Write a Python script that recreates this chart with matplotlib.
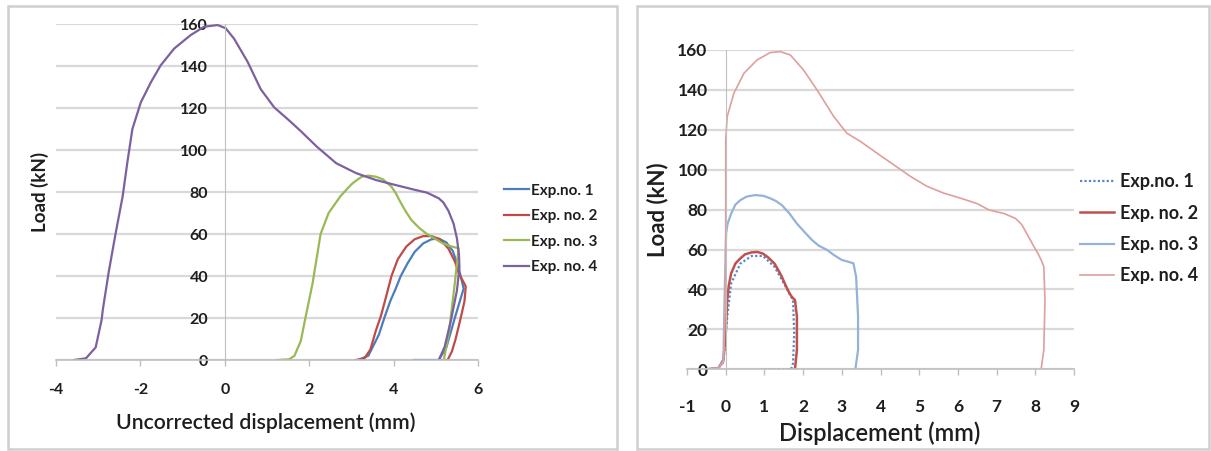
import matplotlib
matplotlib.use("Agg")
import matplotlib.pyplot as plt
from matplotlib.patches import Rectangle

plt.rcParams['font.family'] = ['Lato', 'DejaVu Sans']
plt.rcParams['axes.unicode_minus'] = False

# ---- uncorrected load-displacement curves (left chart)
x1L = [3.15, 3.4, 3.55, 3.65, 3.78, 3.92, 4.05, 4.17, 4.33, 4.5, 4.7, 4.9, 5.07, 5.25, 5.4, 5.54, 5.66, 5.45, 5.25, 5.07, 4.48]
y1L = [0, 2, 8, 12, 20, 28, 34, 40, 46, 51.5, 55.5, 57.5, 57.8, 56, 52, 44, 34, 20, 6, 0, 0]

x2L = [3.1, 3.3, 3.45, 3.58, 3.7, 3.82, 3.95, 4.1, 4.3, 4.5, 4.7, 4.9, 5.1, 5.3, 5.45, 5.55, 5.66, 5.71, 5.68, 5.59,
       5.47, 5.38, 5.28, 5.15]
y2L = [0, 0.5, 5, 14, 21, 30, 40, 48, 54, 57.5, 59, 59, 57.5, 53, 47, 41, 37, 35, 28, 20, 10, 4, 0, 0]

x3L = [1.24, 1.52, 1.65, 1.8, 1.9, 2.08, 2.27, 2.46, 2.74, 2.9, 3.02, 3.15, 3.25, 3.4, 3.58, 3.75, 3.95, 4.05, 4.14,
       4.28, 4.42, 4.6, 4.79, 5.0, 5.17, 5.35, 5.54, 5.45, 5.31, 5.19]
y3L = [0, 0.3, 2, 9, 19, 36.5, 60, 70, 78, 81.5, 84, 86, 87.3, 87.8, 87.3, 86, 82.5, 79.5, 76,
       71, 66.7, 63, 60, 57.5, 55.5, 54.2, 53.2, 36.5, 12.7, 0]

x4L = [-3.57, -3.29, -3.06, -2.92, -2.89, -2.75, -2.59, -2.42, -2.31, -2.19, -1.99, -1.75, -1.52, -1.2, -0.81,
       -0.49, -0.17, 0.02, 0.22, 0.54, 0.85, 1.17, 1.49, 1.8, 2.18, 2.64, 3.11, 3.58, 4.05, 4.51, 4.79, 5.07,
       5.18, 5.3, 5.42, 5.5, 5.55, 5.56, 5.5, 5.36, 5.21, 5.07]
y4L = [0, 0.8, 6, 19, 24, 42, 60, 78, 94, 110, 122.7, 132.3, 140.3, 148.3, 154.7,
       158.7, 159.5, 158, 153, 142, 129, 120.3, 114.7, 109, 101.6, 93.7, 89, 85.7, 83.3, 81, 79.7, 77,
       75, 71, 65, 58, 50, 44, 33, 19, 6.3, 0]

# ---- corrected load-displacement curves (right chart)
x1R = [-0.5, -0.2, -0.06, -0.03, 0.04, 0.14, 0.38, 0.67, 0.96, 1.26, 1.55, 1.74, 1.77, 1.74, 1.69, 0.92]
y1R = [0, 0.5, 4, 9.7, 26.4, 43, 53, 56.8, 56.8, 51.4, 41.4, 34.7, 18, 3, 0, 0]

x2R = [-0.5, -0.19, -0.06, 0, 0.04, 0.08, 0.14, 0.25, 0.38, 0.5, 0.67, 0.82, 0.96, 1.1, 1.26, 1.35, 1.45, 1.55,
       1.65, 1.72, 1.79, 1.84, 1.84, 1.79]
y2R = [0, 0.5, 4.7, 18, 34.7, 42, 48, 53, 55.6, 57.6, 58.6, 58.8, 58, 56, 53, 50, 46.4, 42,
       38, 36, 34.7, 26.4, 9.7, 0]

x3R = [-0.5, -0.2, -0.06, -0.03, 0.01, 0.05, 0.14, 0.25, 0.38, 0.55, 0.77, 0.98, 1.16, 1.3, 1.45, 1.65, 1.84, 2.05,
       2.23, 2.4, 2.62, 2.8, 3.0, 3.15, 3.3, 3.37, 3.42, 3.42, 3.35]
y3R = [0, 0.5, 4, 34.7, 68, 73, 78, 82.5, 84.8, 86.6, 87.3, 86.9, 85.6, 84.3, 82.3, 78, 73, 68.5,
       64.8, 62, 59.8, 57.2, 54.8, 54, 53.1, 46.4, 26.4, 9.7, 0]

x4R = [-0.5, -0.2, -0.06, -0.03, 0.0, 0.0, 0.04, 0.21, 0.47, 0.81, 1.15, 1.41, 1.67, 2.01, 2.36, 2.79, 3.13, 3.48,
       3.91, 4.34, 4.77, 5.2, 5.63, 6.06, 6.5, 6.81, 7.2, 7.49, 7.65, 7.78, 7.95, 8.07, 8.17, 8.22, 8.25, 8.22, 8.15]
y4R = [0, 0.5, 3, 18, 51, 115, 126.7, 138.3, 148.3, 155, 158.7, 159.2, 157.5, 150, 140, 126.7, 118.3, 114.2,
       108.3, 102.5, 96.7, 91.7, 88.3, 85.8, 83, 79.8, 78, 75.6, 72.5, 68, 62, 58, 54, 51.4, 34.7, 9.7, 0]

labelsL = ['Exp.no. 1', 'Exp. no. 2', 'Exp. no. 3', 'Exp. no. 4']
labelsR = ['Exp.no. 1', 'Exp. no. 2', 'Exp. no. 3', 'Exp. no. 4']

txt = '#1E1E1E'
grid_c = '#D9D9D9'
axis_c = '#BFBFBF'

fig = plt.figure(figsize=(12.11, 4.51), dpi=100)

# chart borders
fig.patches.append(Rectangle((8 / 1211, 2 / 451), 609 / 1211, 443 / 451, transform=fig.transFigure,
                             fill=False, edgecolor='#CFCFCF', lw=1.8))
fig.patches.append(Rectangle((637 / 1211, 2 / 451), 572 / 1211, 443 / 451, transform=fig.transFigure,
                             fill=False, edgecolor='#CFCFCF', lw=1.8))


def style_axes(ax, xlim, xticks, fs, ypad, xpad):
    ax.set_xlim(*xlim)
    ax.set_ylim(0, 160)
    ax.set_xticks(xticks)
    ax.set_yticks(range(0, 161, 20))
    ax.grid(axis='y', color=grid_c, lw=1.6)
    ax.set_axisbelow(True)
    for s in ['top', 'right']:
        ax.spines[s].set_visible(False)
    ax.spines['left'].set_position(('data', 0))
    ax.spines['left'].set_color(axis_c)
    ax.spines['left'].set_linewidth(0.8)
    ax.spines['bottom'].set_color(axis_c)
    ax.spines['bottom'].set_linewidth(1.2)
    ax.tick_params(axis='y', length=0, pad=ypad, labelsize=fs, labelcolor=txt)
    ax.tick_params(axis='x', length=4.5, width=1, color=axis_c, direction='out', pad=xpad,
                   labelsize=fs, labelcolor=txt)
    for t in ax.get_xticklabels() + ax.get_yticklabels():
        t.set_fontweight('bold')


# left chart
axL = fig.add_axes([56 / 1211, (451 - 360) / 451, 422 / 1211, 336 / 451])
style_axes(axL, (-4, 6), range(-4, 7, 2), 11.5, 12, 12)
axL.plot(x1L, y1L, color='#4A7EBB', lw=1.6, label=labelsL[0])
axL.plot(x2L, y2L, color='#BE4B48', lw=1.6, label=labelsL[1])
axL.plot(x3L, y3L, color='#98B954', lw=1.6, label=labelsL[2])
axL.plot(x4L, y4L, color='#7D60A0', lw=1.6, label=labelsL[3])
axL.set_xlabel('Uncorrected displacement (mm)', fontsize=15.3, fontweight='semibold', color=txt, va='center')
axL.xaxis.set_label_coords(0.498, -0.1875)
axL.set_ylabel('Load (kN)', fontsize=13.5, fontweight='bold', color=txt, va='center')
axL.yaxis.set_label_coords(-0.038, 0.5)
axL.legend(loc='center left', bbox_to_anchor=(1.062, 0.39), frameon=False,
           handlelength=1.6, handletextpad=0.15, labelspacing=0.75, borderpad=0, borderaxespad=0,
           labelcolor=txt, prop={'weight': 'bold', 'size': 11})

# right chart
axR = fig.add_axes([687 / 1211, (451 - 369.3) / 451, 387 / 1211, 319.3 / 451])
style_axes(axR, (-1, 9), range(-1, 10), 12.5, 13, 17)
axR.plot(x1R, y1R, color='#5B87C5', lw=1.6, ls=(0, (1, 1)), label=labelsR[0])
axR.plot(x2R, y2R, color='#C0504D', lw=1.8, label=labelsR[1])
axR.plot(x3R, y3R, color='#95B3D7', lw=1.6, label=labelsR[2])
axR.plot(x4R, y4R, color='#DE9F9D', lw=1.2, label=labelsR[3])
axR.set_xlabel('Displacement (mm)', fontsize=17, fontweight='semibold', color=txt, va='center')
axR.xaxis.set_label_coords(0.499, -0.1995)
axR.set_ylabel('Load (kN)', fontsize=16, fontweight='bold', color=txt, va='center')
axR.yaxis.set_label_coords(-0.075, 0.5)
axR.legend(loc='center left', bbox_to_anchor=(1.0155, 0.44), frameon=False,
           handlelength=1.9, handletextpad=0.3, labelspacing=0.8, borderpad=0, borderaxespad=0,
           labelcolor=txt, prop={'weight': 'bold', 'size': 13})

fig.savefig('out.png', dpi=100)
